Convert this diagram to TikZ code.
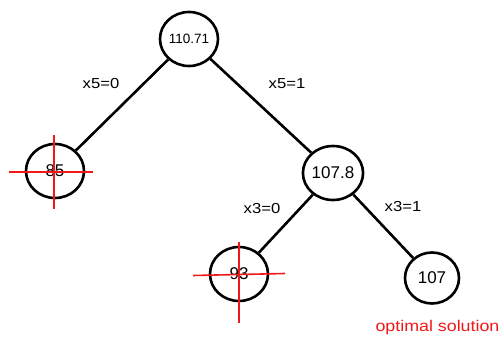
\documentclass[tikz,border=0pt]{standalone}
\usepackage{fontspec}
\setmainfont{Liberation Sans}
\usepackage{tikz}
\usetikzlibrary{shapes.geometric}
\definecolor{crossRed}{HTML}{F01818}
\newcommand{\wide}[1]{\scalebox{1.15}[1]{#1}}

\begin{document}
\begin{tikzpicture}[x=1pt,y=1pt]
    \tikzstyle{bbnode}=[draw, ellipse, line width=2.6pt, minimum width=58pt,
      minimum height=54pt, inner sep=0pt, font=\fontsize{17}{17}\selectfont]
    \tikzstyle{branch}=[line width=2.6pt]
    \tikzstyle{branchlabel}=[font=\fontsize{14.5}{14.5}\selectfont]
    \tikzstyle{cut}=[draw=crossRed, line width=1.6pt]

    \useasboundingbox (0,0) rectangle (503,338);

    \node[bbnode, font=\fontsize{13.5}{13.5}\selectfont] (root) at (189,299) {110.71};
    \node[bbnode] (n85) at (55,167) {85};
    \node[bbnode] (n1078) at (333,165) {107.8};
    \node[bbnode] (n93) at (239,64) {93};
    \node[bbnode, minimum width=54pt, minimum height=51pt] (n107) at (432,60) {107};

    \draw[branch] (root) -- (n85);
    \draw[branch] (root) -- (n1078);
    \draw[branch] (n1078) -- (n93);
    \draw[branch] (n1078) -- (n107);

    \node[branchlabel] (l50) at (101,254) {\wide{x5=0}};
    \node[branchlabel] (l51) at (287,254.5) {\wide{x5=1}};
    \node[branchlabel] (l30) at (262,129.5) {\wide{x3=0}};
    \node[branchlabel] (l31) at (403,131) {\wide{x3=1}};

    % pruned nodes
    \draw[cut] ([shift={(-1,36)}]n85.center) -- ([shift={(-1,-38)}]n85.center);
    \draw[cut] ([shift={(-46,-1)}]n85.center) -- ([shift={(38,-1)}]n85.center);
    \draw[cut] ([shift={(0,32)}]n93.center) -- ([shift={(0,-49)}]n93.center);
    \draw[cut] ([shift={(-46,-1.5)}]n93.center) -- ([shift={(46,0.5)}]n93.center);

    \node[text=crossRed, font=\fontsize{15.5}{15.5}\selectfont] (opt) at (437.5,11) {\wide{optimal solution}};
\end{tikzpicture}
\end{document}
